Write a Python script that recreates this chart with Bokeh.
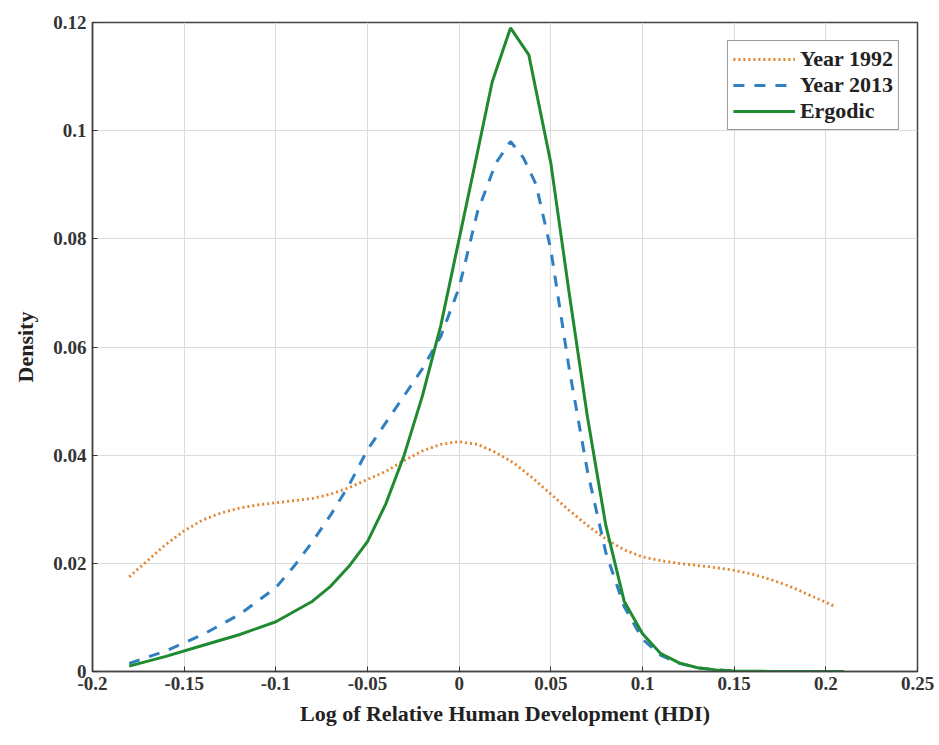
from bokeh.plotting import figure
from bokeh.models import FixedTicker, Legend, LegendItem, Range1d
from bokeh.embed import file_html
from bokeh.resources import INLINE

x_ticks = [-0.2, -0.15, -0.1, -0.05, 0.0, 0.05, 0.1, 0.15, 0.2, 0.25]
x_tick_labels = ["-0.2", "-0.15", "-0.1", "-0.05", "0", "0.05", "0.1", "0.15", "0.2", "0.25"]
y_ticks = [0.0, 0.02, 0.04, 0.06, 0.08, 0.1, 0.12]
y_tick_labels = ["0", "0.02", "0.04", "0.06", "0.08", "0.1", "0.12"]

x_1992 = [-0.18, -0.17, -0.16, -0.15, -0.14, -0.13, -0.12, -0.11, -0.1, -0.09, -0.08, -0.07,
          -0.06, -0.05, -0.04, -0.03, -0.02, -0.01, 0.0, 0.01, 0.02, 0.03, 0.04, 0.05, 0.06,
          0.07, 0.08, 0.09, 0.1, 0.11, 0.12, 0.13, 0.14, 0.15, 0.16, 0.17, 0.18, 0.19, 0.2, 0.205]
y_1992 = [0.0175, 0.0205, 0.0235, 0.026, 0.028, 0.0293, 0.0302, 0.0308, 0.0312, 0.0316, 0.032,
          0.0328, 0.034, 0.0355, 0.037, 0.039, 0.0408, 0.042, 0.0425, 0.042, 0.0405, 0.0385,
          0.0358, 0.0328, 0.0298, 0.027, 0.0245, 0.0225, 0.0212, 0.0205, 0.02, 0.0196, 0.0192,
          0.0187, 0.018, 0.017, 0.0158, 0.0143, 0.0128, 0.012]

x_2013 = [-0.18, -0.16, -0.14, -0.12, -0.1, -0.09, -0.08, -0.07, -0.06, -0.05, -0.04, -0.03,
          -0.02, -0.01, 0.0, 0.01, 0.02, 0.028, 0.035, 0.042, 0.05, 0.06, 0.07, 0.08, 0.09,
          0.1, 0.11, 0.12, 0.13, 0.14, 0.15]
y_2013 = [0.0015, 0.0038, 0.0068, 0.0105, 0.0155, 0.0195, 0.024, 0.029, 0.0345, 0.041, 0.046,
          0.051, 0.056, 0.062, 0.071, 0.085, 0.094, 0.098, 0.095, 0.09, 0.078, 0.056, 0.037,
          0.022, 0.012, 0.006, 0.003, 0.0015, 0.0007, 0.0003, 0.0001]

x_erg = [-0.18, -0.16, -0.14, -0.12, -0.1, -0.08, -0.07, -0.06, -0.05, -0.04, -0.03, -0.02,
         -0.01, 0.0, 0.01, 0.018, 0.028, 0.038, 0.05, 0.06, 0.07, 0.08, 0.09, 0.1, 0.11, 0.12,
         0.13, 0.14, 0.15, 0.17, 0.2, 0.21]
y_erg = [0.001, 0.0028, 0.0048, 0.0068, 0.0092, 0.013, 0.0158, 0.0195, 0.024, 0.031, 0.04,
         0.051, 0.064, 0.08, 0.096, 0.109, 0.119, 0.114, 0.094, 0.07, 0.047, 0.027, 0.013,
         0.007, 0.0033, 0.0016, 0.0007, 0.0003, 0.0001, 0.00002, 0.0, 0.0]

FONT = "Liberation Serif"

p = figure(width=939, height=745, output_backend="svg", toolbar_location=None,
           x_range=Range1d(-0.2, 0.25), y_range=Range1d(0, 0.12),
           min_border_left=92, min_border_right=22, min_border_top=22, min_border_bottom=74)
p.background_fill_color = "white"
p.border_fill_color = "white"
p.outline_line_color = "#444444"
p.outline_line_width = 1.5

p.xaxis.ticker = FixedTicker(ticks=x_ticks)
p.yaxis.ticker = FixedTicker(ticks=y_ticks)
p.xaxis.major_label_overrides = dict(zip(x_ticks, x_tick_labels))
p.yaxis.major_label_overrides = dict(zip(y_ticks, y_tick_labels))
for ax in (p.xaxis[0], p.yaxis[0]):
    ax.major_tick_in = 5
    ax.major_tick_out = 0
    ax.minor_tick_line_color = None
    ax.axis_line_color = "#444444"
    ax.axis_line_width = 1.5
    ax.major_tick_line_color = "#333333"
    ax.major_label_text_font = FONT
    ax.major_label_text_font_style = "bold"
    ax.major_label_text_font_size = "19px"
    ax.major_label_text_color = "#333333"
    ax.axis_label_text_font = FONT
    ax.axis_label_text_font_style = "bold"
    ax.axis_label_text_font_size = "22px"
    ax.axis_label_text_color = "#222222"
p.xaxis.axis_label = "Log of Relative Human Development (HDI)"
p.yaxis.axis_label = "Density"
p.xaxis.major_label_standoff = 5
p.yaxis.major_label_standoff = 6
p.xaxis.axis_label_standoff = 8
p.yaxis.axis_label_standoff = 12

p.xgrid.ticker = FixedTicker(ticks=x_ticks)
p.ygrid.ticker = FixedTicker(ticks=y_ticks)
p.grid.grid_line_color = "#dcdcdc"
p.grid.grid_line_width = 1

r1 = p.line(x_1992, y_1992, line_color="#E3832B", line_width=2.8, line_dash="2 3")
r2 = p.line(x_2013, y_2013, line_color="#2F7FC1", line_width=3, line_dash="11 10")
r3 = p.line(x_erg, y_erg, line_color="#1F8A30", line_width=3)

legend = Legend(items=[LegendItem(label="Year 1992", renderers=[r1]),
                       LegendItem(label="Year 2013", renderers=[r2]),
                       LegendItem(label="Ergodic", renderers=[r3])],
                location="top_right")
legend.label_text_font = FONT
legend.label_text_font_style = "bold"
legend.label_text_font_size = "22px"
legend.label_text_color = "#222222"
legend.border_line_color = "#333333"
legend.border_line_width = 1.5
legend.glyph_width = 62
legend.glyph_height = 26
legend.label_height = 26
legend.spacing = 0
legend.padding = 5
legend.margin = 18
legend.label_standoff = 5
p.add_layout(legend)

open("out.html", "w").write(file_html(p, INLINE))
